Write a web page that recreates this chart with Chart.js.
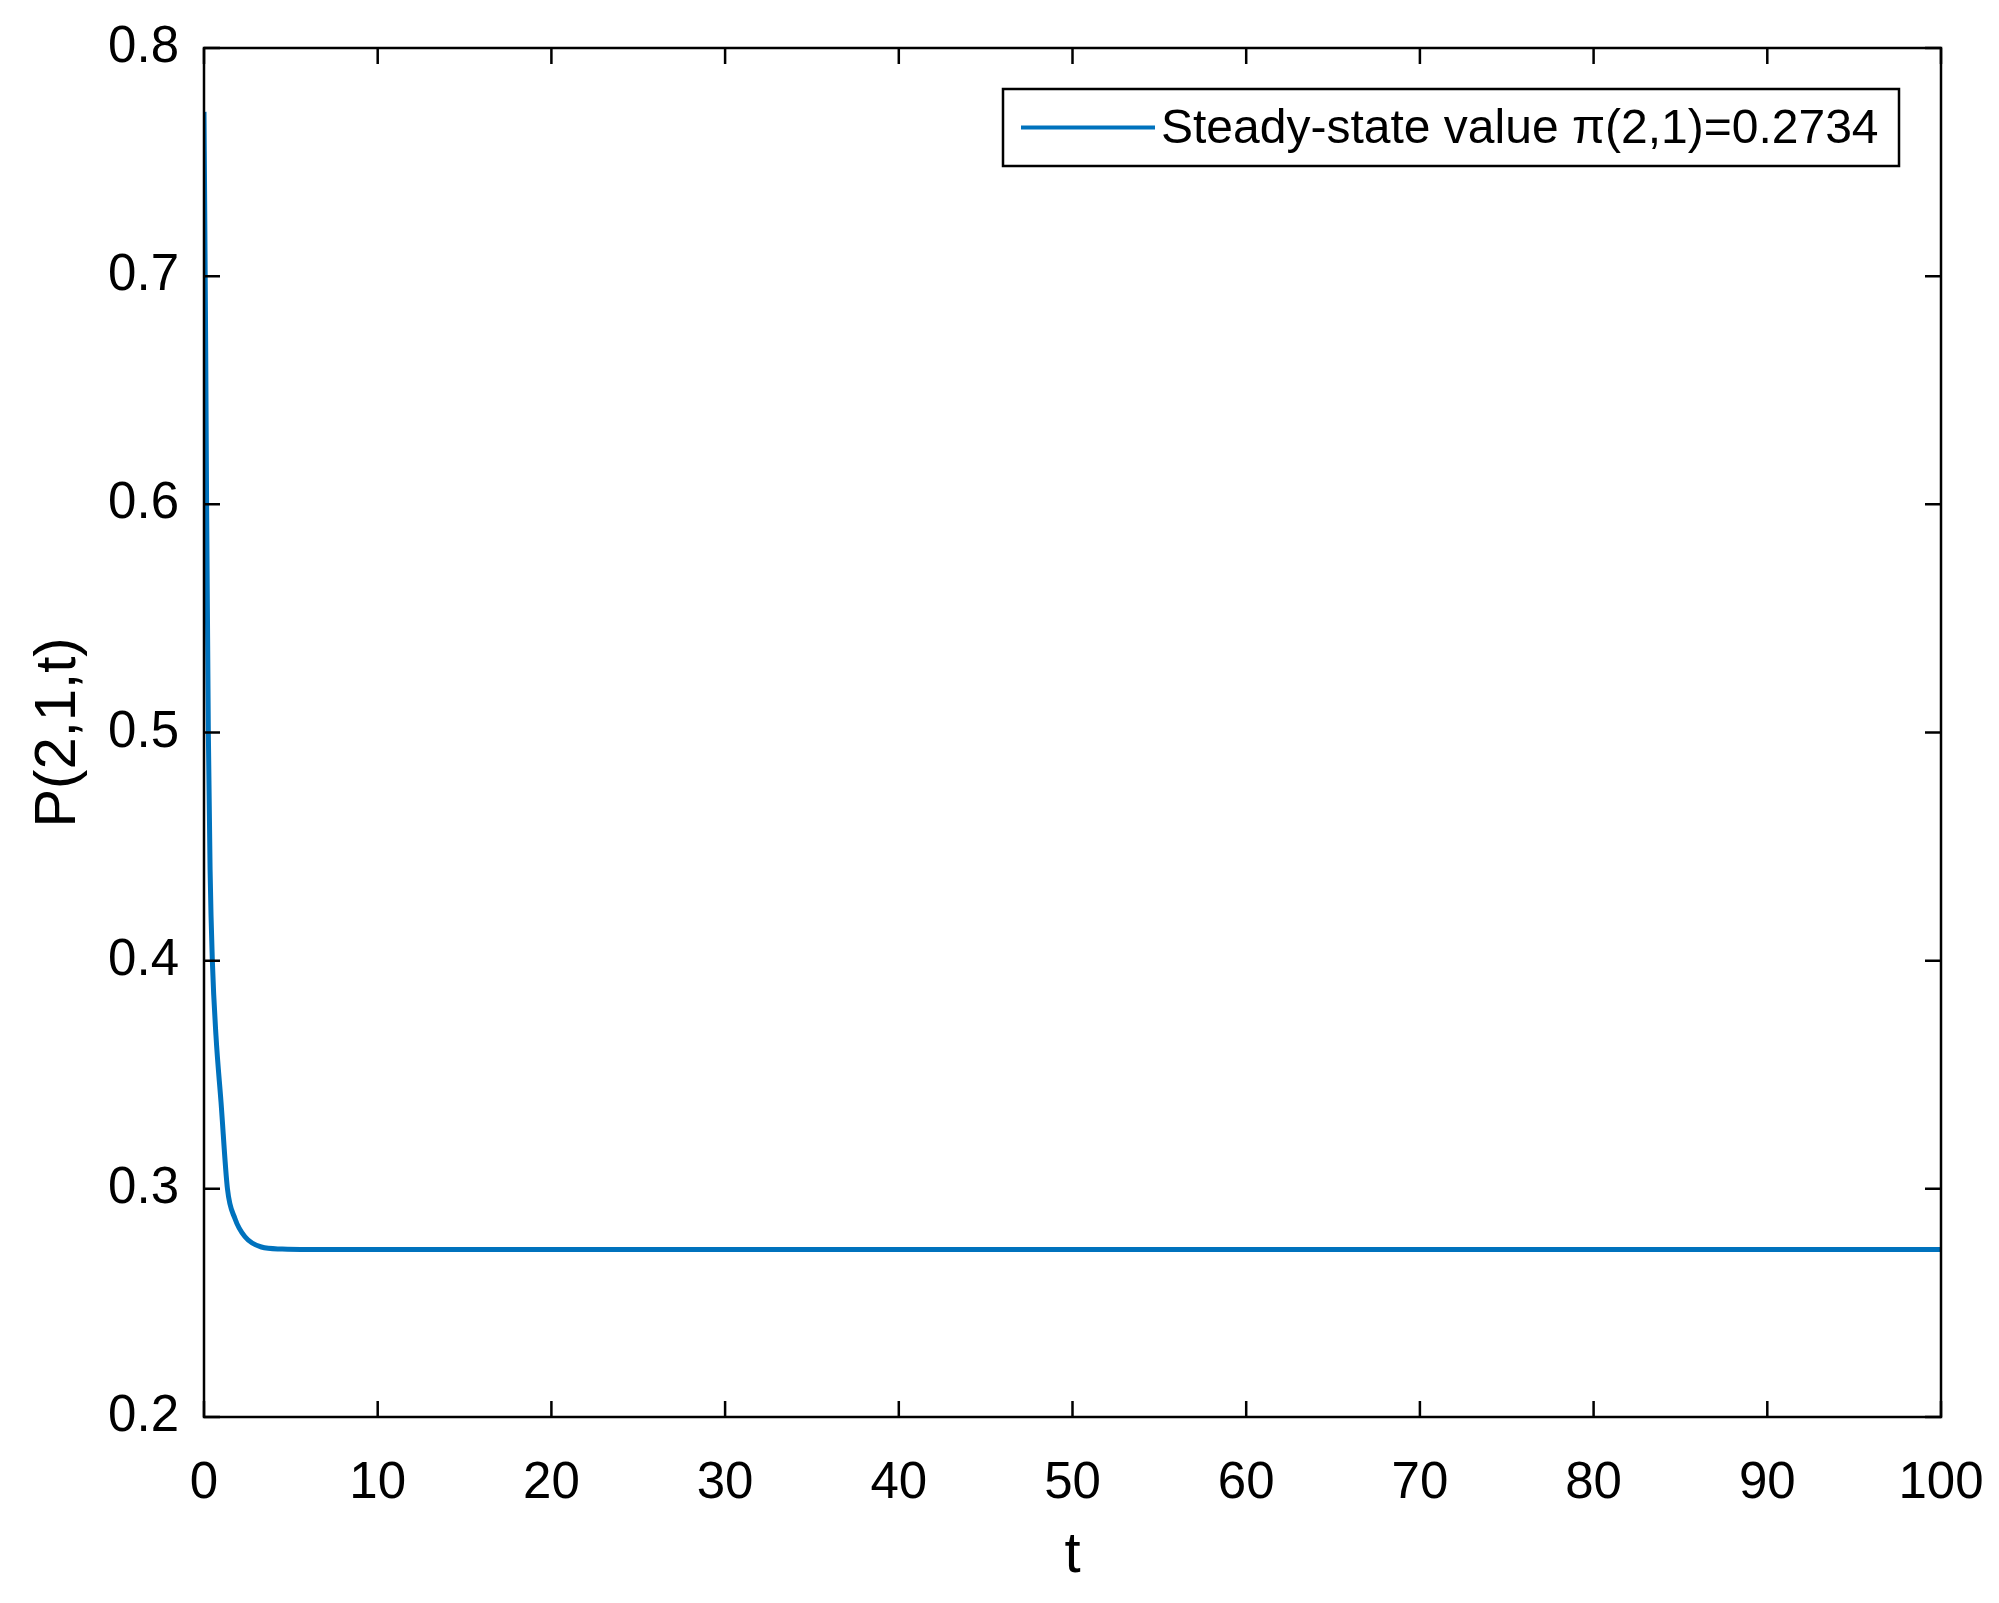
<!DOCTYPE html>
<html>
<head>
<meta charset="utf-8">
<script src="https://cdn.jsdelivr.net/npm/chart.js@4.4.1/dist/chart.umd.min.js"></script>
<style>
  html, body { margin: 0; padding: 0; background: #fff; }
  #wrap { width: 1999px; height: 1603px; }
</style>
</head>
<body>
<div id="wrap"><canvas id="probChart" width="1999" height="1603"></canvas></div>
<script>
// values
const tValues = [0, 0.05, 0.1, 0.15, 0.25, 0.35, 0.48, 0.69, 0.98, 1.35, 1.78, 2.36, 3.3, 4.5, 6, 10, 20, 30, 40, 50, 60, 70, 80, 90, 100];
const pValues = [0.772, 0.72, 0.665, 0.60, 0.50, 0.44, 0.40, 0.367, 0.338, 0.300, 0.287, 0.279, 0.2745, 0.2736, 0.2734, 0.2734, 0.2734, 0.2734, 0.2734, 0.2734, 0.2734, 0.2734, 0.2734, 0.2734, 0.2734];
const xTicks = [0, 10, 20, 30, 40, 50, 60, 70, 80, 90, 100];
const yTicks = [0.2, 0.3, 0.4, 0.5, 0.6, 0.7, 0.8];
const seriesLabel = 'Steady-state value \u03c0(2,1)=0.2734';

const FONT = '"Liberation Sans", Arial, Helvetica, sans-serif';
const lineColor = '#0072BD';

// box, inward ticks on all four sides and the boxed legend, matlab style
const matlabAxes = {
    id: 'matlabAxes',
    afterDatasetsDraw(chart) {
        const { ctx, chartArea: a, scales } = chart;
        const tick = 16;
        ctx.save();
        ctx.strokeStyle = '#000';
        ctx.lineWidth = 2.5;
        ctx.beginPath();
        xTicks.forEach(v => {
            const px = scales.x.getPixelForValue(v);
            ctx.moveTo(px, a.bottom); ctx.lineTo(px, a.bottom - tick);
            ctx.moveTo(px, a.top); ctx.lineTo(px, a.top + tick);
        });
        yTicks.forEach(v => {
            const py = scales.y.getPixelForValue(v);
            ctx.moveTo(a.left, py); ctx.lineTo(a.left + tick, py);
            ctx.moveTo(a.right, py); ctx.lineTo(a.right - tick, py);
        });
        ctx.stroke();
        ctx.strokeRect(a.left, a.top, a.right - a.left, a.bottom - a.top);

        // legend
        const lx = 1003, ly = 89, lw = 896, lh = 77;
        ctx.fillStyle = '#fff';
        ctx.fillRect(lx, ly, lw, lh);
        ctx.strokeRect(lx, ly, lw, lh);
        const ds = chart.data.datasets[0];
        ctx.strokeStyle = ds.borderColor;
        ctx.lineWidth = 4;
        ctx.beginPath();
        ctx.moveTo(lx + 18, ly + lh / 2);
        ctx.lineTo(lx + 152, ly + lh / 2);
        ctx.stroke();
        ctx.fillStyle = '#000';
        ctx.font = '48px ' + FONT;
        ctx.textBaseline = 'middle';
        ctx.textAlign = 'left';
        ctx.fillText(ds.label, lx + 158, ly + lh / 2 + 2);
        ctx.restore();
    }
};

const ctx = document.getElementById('probChart').getContext('2d');
const probChart = new Chart(ctx, {
    type: 'line',
    data: {
        datasets: [{
            label: seriesLabel,
            data: tValues.map((t, i) => ({ x: t, y: pValues[i] })),
            borderColor: lineColor,
            borderWidth: 5,
            pointRadius: 0,
            fill: false,
            cubicInterpolationMode: 'monotone'
        }]
    },
    options: {
        responsive: false,
        devicePixelRatio: 1,
        animation: false,
        layout: { autoPadding: false, padding: { left: 0, top: 48, right: 58, bottom: 0 } },
        plugins: {
            legend: { display: false },
            tooltip: { enabled: false }
        },
        scales: {
            x: {
                type: 'linear',
                min: 0, max: 100,
                grid: { display: false },
                border: { display: false },
                afterBuildTicks: s => { s.ticks = xTicks.map(v => ({ value: v })); },
                afterFit: s => { s.height = 186; s.paddingLeft = 0; s.paddingRight = 0; },
                ticks: { color: '#000', padding: 28, maxRotation: 0, font: { family: FONT, size: 51 } },
                title: { display: true, text: 't', color: '#000', padding: { top: 0, bottom: 12 }, font: { family: FONT, size: 58 } }
            },
            y: {
                type: 'linear',
                min: 0.2, max: 0.8,
                grid: { display: false },
                border: { display: false },
                afterBuildTicks: s => { s.ticks = yTicks.map(v => ({ value: v })); },
                afterFit: s => { s.width = 204; s.paddingTop = 0; s.paddingBottom = 0; },
                ticks: { color: '#000', padding: 17, font: { family: FONT, size: 51 }, callback: v => v.toFixed(1) },
                title: { display: true, text: 'P(2,1,t)', color: '#000', padding: { top: 24, bottom: 0 }, font: { family: FONT, size: 58 } }
            }
        }
    },
    plugins: [matlabAxes]
});
</script>
</body>
</html>
